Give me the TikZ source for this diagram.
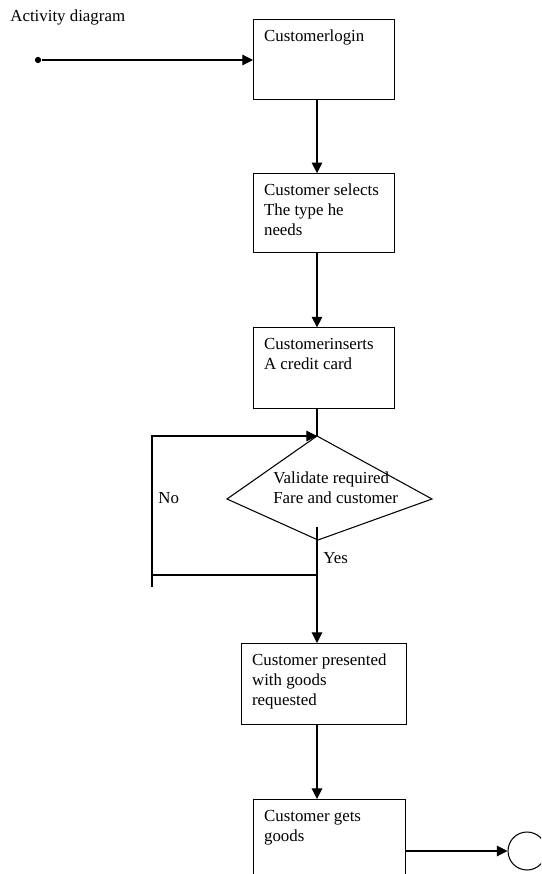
\documentclass[tikz,border=0pt]{standalone}
\usepackage{fontspec}
\setmainfont{Liberation Serif}
\usetikzlibrary{positioning, arrows.meta}

\begin{document}
\begin{tikzpicture}[
    x=0.02cm, y=-0.02cm,
    every node/.style={font=\fontsize{9.6pt}{11.3pt}\selectfont},
    actbox/.style={rectangle, draw, line width=0.6pt, anchor=north west,
      inner xsep=6pt, inner ysep=4.6pt},
    arrow/.style={-{Triangle[length=6pt, width=6pt]}, line width=0.6pt},
    flow/.style={line width=0.6pt},
    startdot/.style={circle, fill, inner sep=0pt, minimum size=3.6pt},
    endstate/.style={circle, draw, line width=0.6pt, minimum size=0.76cm, inner sep=0pt},
    guard/.style={anchor=base west, inner sep=0pt}
  ]
    \clip (0,0) rectangle (541,874);

    \node[anchor=base west, inner sep=0pt] (title) at (10,22) {Activity diagram};

    % activities
    \node[actbox] (login) at (253,19)
      {\parbox[t][1.28cm][t]{2.4cm}{\strut Customerlogin}};
    \node[actbox, below=1.46cm of login.south west, anchor=north west] (select)
      {\parbox[t][1.26cm][t]{2.4cm}{\strut Customer selects\\The type he\\needs}};
    \node[actbox, below=1.48cm of select.south west, anchor=north west] (insert)
      {\parbox[t][1.28cm][t]{2.4cm}{\strut Customerinserts\\A credit card}};
    \node[actbox] (present) at (241,643)
      {\parbox[t][1.30cm][t]{2.88cm}{\strut Customer presented\\with goods\\requested}};
    \node[actbox] (goods) at (253,799)
      {\parbox[t][1.48cm][t]{2.62cm}{\strut Customer gets\\goods}};

    \node[startdot] (start) at (38,60) {};
    \node[endstate] (finish) at (527,851) {};

    % decision
    \coordinate (spine) at (317,0);
    \coordinate (dtop) at (317,436);
    \coordinate (dright) at (432,499);
    \coordinate (dbot) at (318,540);
    \coordinate (dleft) at (227,499);
    \draw[flow] (dtop) -- (dright) -- (dbot) -- (dleft) -- cycle;
    \node[anchor=west, inner sep=0pt, align=left] (check) at (273,488)
      {Validate required\\Fare and customer};

    \coordinate (exit) at (317,527);
    \coordinate (join) at (317,575);
    \coordinate (back) at (152,436);

    % connectors
    \draw[arrow] (start) -- (login.west |- start);
    \draw[arrow] (login.south -| spine) -- (select.north -| spine);
    \draw[arrow] (select.south -| spine) -- (insert.north -| spine);
    \draw[flow] (insert.south -| spine) -- (dtop);
    \draw[flow] (back) -- ++(0,151);
    \draw[arrow] (join) -| (back) -- (dtop);
    \draw[arrow] (exit) -- (present.north -| spine);
    \draw[arrow] (present.south -| spine) -- (goods.north -| spine);
    \draw[arrow] (goods.east |- finish) -- (finish.west);

    \node[guard] (no) at (158,503) {No};
    \node[guard] (yes) at (323,563) {Yes};
  \end{tikzpicture}
\end{document}
